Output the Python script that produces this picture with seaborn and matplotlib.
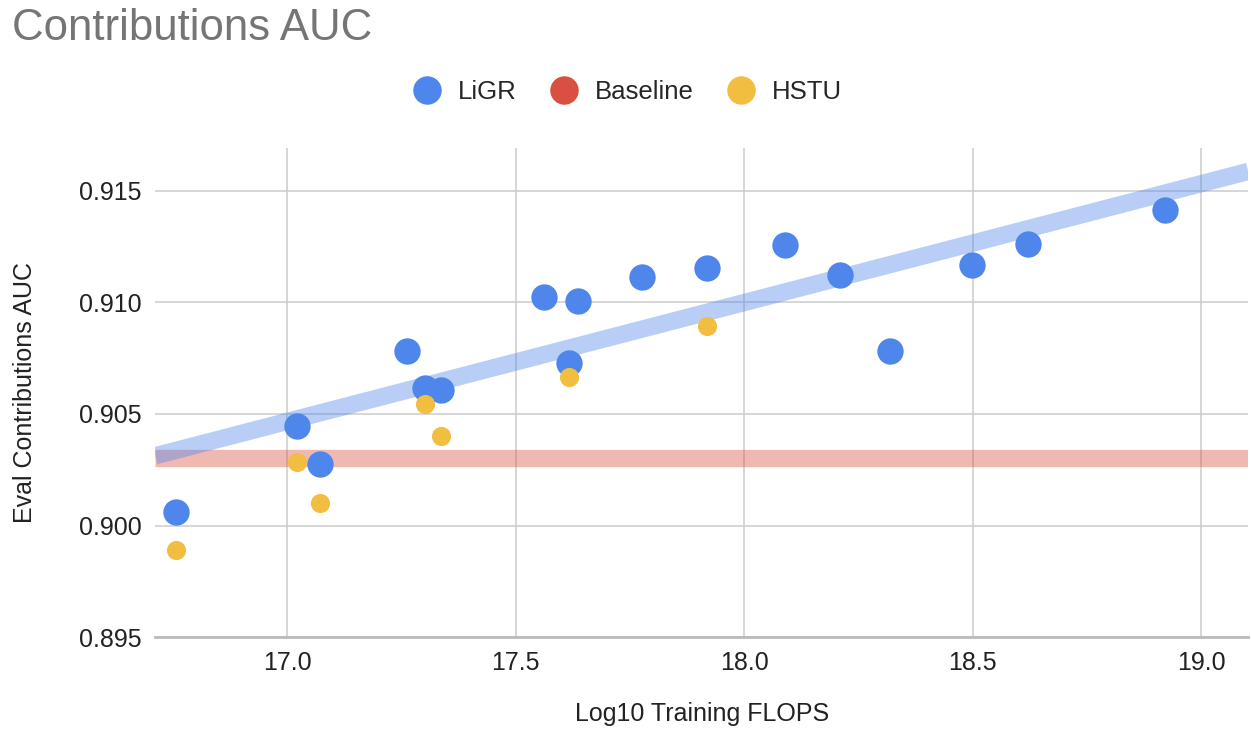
import numpy as np
import pandas as pd
import matplotlib
matplotlib.use("Agg")
import matplotlib.pyplot as plt
from matplotlib.lines import Line2D
import seaborn as sns

# values
ligr_flops = [16.757, 17.022, 17.072, 17.263, 17.302, 17.337, 17.562, 17.617,
              17.637, 17.777, 17.919, 18.090, 18.210, 18.319, 18.499, 18.621, 18.921]
ligr_auc = [0.90063, 0.90446, 0.90276, 0.90782, 0.90616, 0.90607, 0.91022, 0.90728,
            0.91004, 0.91112, 0.91153, 0.91255, 0.91121, 0.90782, 0.91166, 0.91260, 0.91415]

hstu_flops = [16.757, 17.022, 17.072, 17.302, 17.337, 17.617, 17.919]
hstu_auc = [0.89893, 0.90285, 0.90103, 0.90545, 0.90402, 0.90665, 0.90893]

baseline_auc = 0.90303

x_ticks = [17.0, 17.5, 18.0, 18.5, 19.0]
y_ticks = [0.895, 0.900, 0.905, 0.910, 0.915]

BLUE = "#4E86EC"
RED = "#D95040"
YELLOW = "#F2BE42"

ligr = pd.DataFrame({"flops": ligr_flops, "auc": ligr_auc})
hstu = pd.DataFrame({"flops": hstu_flops, "auc": hstu_auc})

sns.set_style("white")
plt.rcParams["font.family"] = ["Liberation Sans", "DejaVu Sans"]

fig = plt.figure(figsize=(12.52, 7.48), dpi=100)
ax = fig.add_axes([0.124, 0.148, 0.873, 0.654])
ax.set_xlim(16.711, 19.103)
ax.set_ylim(0.895, 0.9169)

# baseline band
ax.axhline(baseline_auc, color=RED, lw=12.5, alpha=0.4, zorder=2, solid_capstyle="butt")

# LiGR trendline (fit over the full x range)
sns.regplot(data=ligr, x="flops", y="auc", scatter=False, ci=None, truncate=False,
            ax=ax, line_kws=dict(color=BLUE, lw=12.5, alpha=0.4, zorder=2,
                                 solid_capstyle="butt"))

sns.scatterplot(data=ligr, x="flops", y="auc", color=BLUE, s=360, linewidth=0,
                ax=ax, zorder=3)
sns.scatterplot(data=hstu, x="flops", y="auc", color=YELLOW, s=190, linewidth=0,
                ax=ax, zorder=4)

ax.set_xlim(16.711, 19.103)
ax.set_ylim(0.895, 0.9169)
ax.set_xticks(x_ticks)
ax.set_xticklabels([f"{t:.1f}" for t in x_ticks])
ax.set_yticks(y_ticks)
ax.set_yticklabels([f"{t:.3f}" for t in y_ticks])
ax.grid(True, color="#CCCCCC", lw=1.1)
ax.set_axisbelow(True)
ax.tick_params(length=0, labelsize=18, colors="#222222", pad=10)
for side in ["top", "right", "left"]:
    ax.spines[side].set_visible(False)
ax.spines["bottom"].set_color("#BBBBBB")
ax.spines["bottom"].set_linewidth(2)

ax.set_xlabel("Log10 Training FLOPS", fontsize=18, color="#222222", labelpad=19)
ax.set_ylabel("Eval Contributions AUC", fontsize=18, color="#222222", labelpad=30)

fig.text(0.0096, 1 - 29 / 748, "Contributions AUC", fontsize=31.5, color="#757575",
         ha="left", va="center")

handles = [Line2D([], [], marker="o", ls="", color=c, markersize=19.5)
           for c in (BLUE, RED, YELLOW)]
fig.legend(handles, ["LiGR", "Baseline", "HSTU"], loc="center",
           bbox_to_anchor=(0.5015, 1 - 92 / 748), ncol=3, frameon=False,
           fontsize=18.5, handlelength=1.0, handletextpad=0.7, columnspacing=1.35)

fig.savefig("out.png", dpi=100)
